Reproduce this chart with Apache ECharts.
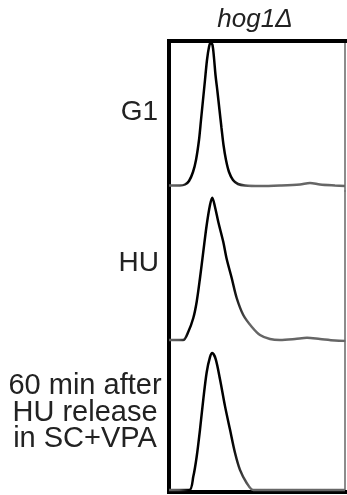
<!DOCTYPE html>
<html>
<head>
<meta charset="utf-8">
<script src="https://cdn.jsdelivr.net/npm/echarts@6/dist/echarts.min.js"></script>
<style>
html, body { margin: 0; padding: 0; background: #fff; }
#chart { width: 347px; height: 495px; }
</style>
</head>
<body>
<div id="chart"></div>
<script>
const strainTitle = 'hog1Δ';
const panelLabels = ['G1', 'HU', '60 min after\nHU release\nin SC+VPA'];

// DNA content (channel) and cell counts
const g1X = [0, 11, 16, 20, 24, 27, 30, 32, 34, 36, 38, 40, 41.7, 43.5, 45, 46.5, 48.5, 50.5, 52.5, 54.5, 57, 60, 64, 69, 76, 91, 111, 131, 141, 151, 166, 176];
const g1Y = [5.5, 5.5, 6.5, 10, 19, 31, 51, 71, 91, 111, 131, 144, 148.5, 146, 133, 116, 99, 81, 63, 46, 31, 19, 11, 7, 5.5, 5, 5.5, 6.5, 8, 6.5, 5.5, 5];

const huX = [0, 14, 19.3, 24.3, 27.7, 31, 34.3, 37.7, 41, 43.3, 46, 49.3, 54.3, 57.7, 62.7, 67.7, 74.3, 82.7, 91, 101, 111, 126, 138, 151, 166, 176];
const huY = [1, 1, 9.3, 23, 39.3, 63, 89.3, 116, 136, 143.3, 134, 119, 99, 82, 63, 43, 26, 14.3, 6, 2, 1, 2, 3.3, 2, 0.5, 0];

const relX = [0, 20.3, 24.3, 27.7, 31, 34.3, 37.7, 41, 43.3, 46.7, 51, 56, 61, 66, 71, 77.7, 84.3, 100, 176];
const relY = [2, 2, 15.3, 35.3, 62, 92, 119, 134, 138, 132, 112, 85.3, 62, 39, 22, 9, 2, 2, 2];

const xMax = 176;
const yMax = 150;
const panels = [
  { x: g1X, y: g1Y },
  { x: huX, y: huY },
  { x: relX, y: relY }
];

const gridTops = [41, 191, 341];
const gridHeights = [150, 150, 151];
const font = '"Liberation Sans", Arial, Helvetica, sans-serif';

function lineColor() {
  return new echarts.graphic.LinearGradient(0, 0, 1, 0, [
    { offset: 0, color: '#666' },
    { offset: 0.07, color: '#555' },
    { offset: 0.12, color: '#000' },
    { offset: 0.36, color: '#000' },
    { offset: 0.46, color: '#666' },
    { offset: 1, color: '#666' }
  ]);
}

const thick = { color: '#000', width: 4, cap: 'square' };

const option = {
  animation: false,
  backgroundColor: '#fff',
  grid: panels.map((p, i) => ({
    left: 169,
    width: 176,
    top: gridTops[i],
    height: gridHeights[i]
  })),
  xAxis: panels.map((p, i) => ({
    type: 'value',
    gridIndex: i,
    min: 0,
    max: xMax,
    position: i === 0 ? 'top' : 'bottom',
    axisLine: { show: i !== 1, onZero: false, lineStyle: thick },
    axisTick: { show: false },
    axisLabel: { show: false },
    splitLine: { show: false }
  })),
  yAxis: panels.flatMap((p, i) => [
    {
      type: 'value',
      gridIndex: i,
      min: 0,
      max: yMax,
      position: 'left',
      axisLine: { show: true, onZero: false, lineStyle: thick },
      axisTick: { show: false },
      axisLabel: { show: false },
      splitLine: { show: false }
    },
    {
      type: 'value',
      gridIndex: i,
      min: 0,
      max: yMax,
      position: 'right',
      axisLine: { show: true, onZero: false, lineStyle: { color: '#666', width: 1.5 } },
      axisTick: { show: false },
      axisLabel: { show: false },
      splitLine: { show: false }
    }
  ]),
  series: panels.map((p, i) => ({
    type: 'line',
    xAxisIndex: i,
    yAxisIndex: i * 2,
    data: p.x.map((v, k) => [v, p.y[k]]),
    showSymbol: false,
    smooth: 0.3,
    lineStyle: { width: 2.5, color: lineColor() },
    z: 3
  })),
  graphic: [
    {
      type: 'text',
      style: {
        text: strainTitle, x: 255, y: 20, align: 'center', verticalAlign: 'middle',
        font: 'italic 26px ' + font, fill: '#222'
      }
    },
    {
      type: 'text',
      style: {
        text: panelLabels[0], x: 158, y: 112, align: 'right', verticalAlign: 'middle',
        font: '28px ' + font, fill: '#222'
      }
    },
    {
      type: 'text',
      style: {
        text: panelLabels[1], x: 159, y: 263, align: 'right', verticalAlign: 'middle',
        font: '28px ' + font, fill: '#222'
      }
    },
    {
      type: 'text',
      style: {
        text: panelLabels[2], x: 85, y: 373, align: 'center', verticalAlign: 'top',
        font: '29px ' + font, lineHeight: 26.5, fill: '#222'
      }
    }
  ]
};

const chart = echarts.init(document.getElementById('chart'));
chart.setOption(option);
window.addEventListener('resize', () => {
  chart.resize();
});
</script>
</body>
</html>
